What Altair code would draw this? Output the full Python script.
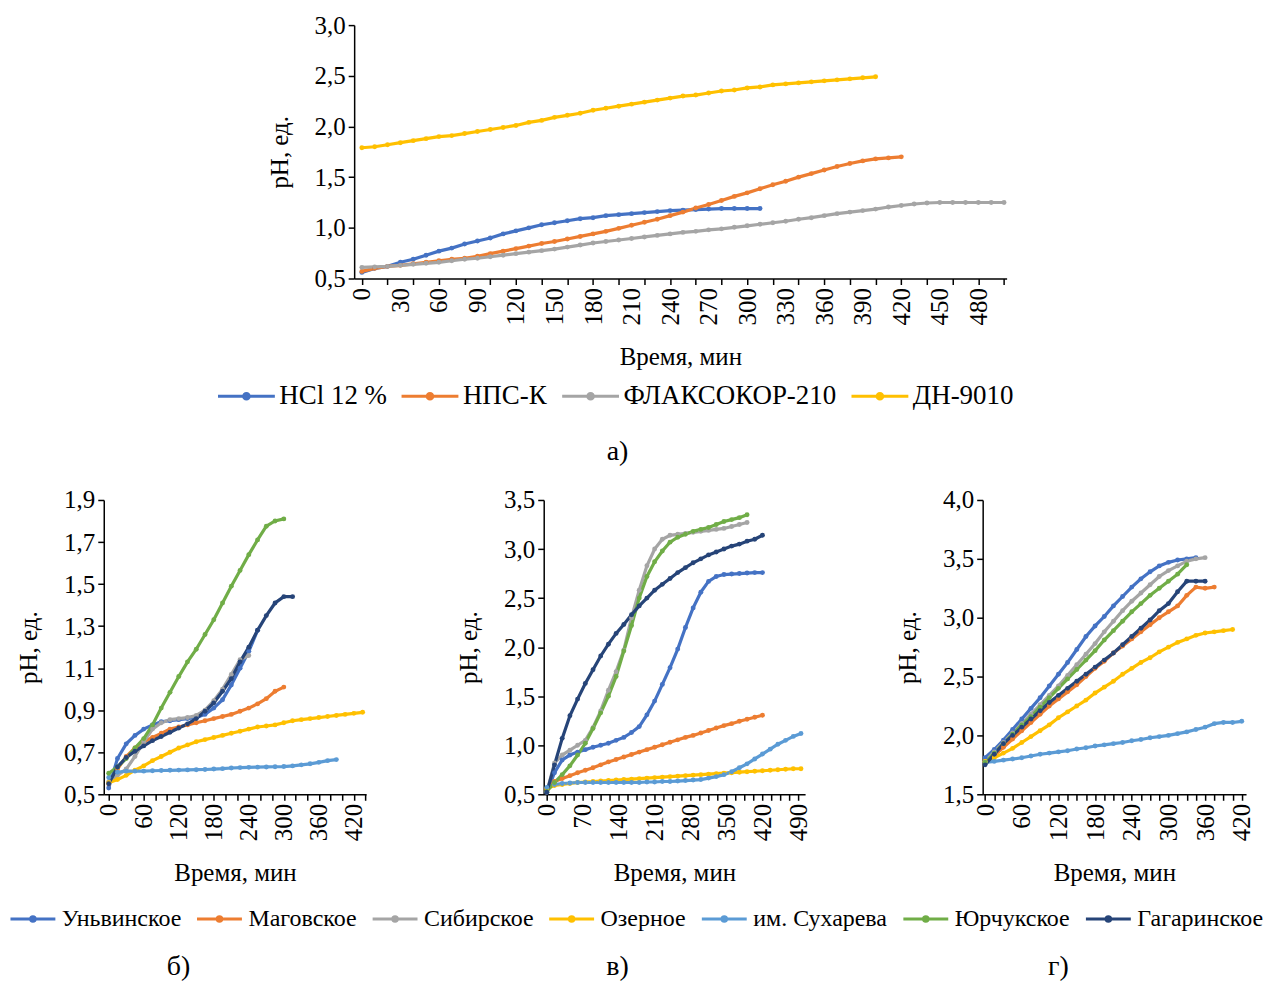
import altair as alt
import pandas as pd

FONT = "Liberation Serif"

# ---------------- panel a) ----------------
a_names = ["HCl 12 %", "НПС-К", "ФЛАКСОКОР-210", "ДН-9010"]
a_colors = ["#4472C4", "#ED7D31", "#A5A5A5", "#FFC000"]
a_step = 10
a_hcl = [0.56, 0.60, 0.62, 0.66, 0.69, 0.73, 0.77, 0.80, 0.84, 0.87, 0.90, 0.94, 0.97, 1.00, 1.03, 1.05,
         1.07, 1.09, 1.10, 1.12, 1.13, 1.14, 1.15, 1.16, 1.17, 1.175, 1.18, 1.185, 1.19, 1.19, 1.19, 1.19]
a_nps = [0.57, 0.60, 0.62, 0.63, 0.645, 0.66, 0.675, 0.69, 0.70, 0.72, 0.745, 0.77, 0.795, 0.82, 0.845,
         0.865, 0.89, 0.915, 0.94, 0.965, 0.995, 1.025, 1.055, 1.085, 1.12, 1.155, 1.195, 1.23, 1.27, 1.31,
         1.345, 1.385, 1.425, 1.46, 1.50, 1.535, 1.57, 1.605, 1.635, 1.66, 1.68, 1.69, 1.70]
a_flax = [0.61, 0.615, 0.62, 0.63, 0.64, 0.65, 0.66, 0.675, 0.69, 0.70, 0.715, 0.73, 0.745, 0.76, 0.775,
          0.79, 0.81, 0.83, 0.85, 0.865, 0.88, 0.895, 0.91, 0.925, 0.94, 0.955, 0.965, 0.98, 0.99, 1.005,
          1.02, 1.035, 1.05, 1.065, 1.085, 1.10, 1.12, 1.14, 1.155, 1.17, 1.185, 1.205, 1.22, 1.235, 1.245,
          1.25, 1.25, 1.25, 1.25, 1.25, 1.25]
a_dn = [1.79, 1.80, 1.82, 1.84, 1.86, 1.88, 1.90, 1.91, 1.93, 1.95, 1.97, 1.99, 2.01, 2.04, 2.06, 2.09,
        2.11, 2.13, 2.16, 2.18, 2.20, 2.22, 2.24, 2.26, 2.28, 2.30, 2.31, 2.33, 2.35, 2.36, 2.38, 2.39,
        2.41, 2.42, 2.43, 2.44, 2.45, 2.46, 2.47, 2.48, 2.49]

# ---------------- fields б), в), г) ----------------
f_names = ["Уньвинское", "Маговское", "Сибирское", "Озерное", "им. Сухарева", "Юрчукское", "Гагаринское"]
f_colors = ["#4472C4", "#ED7D31", "#A5A5A5", "#FFC000", "#5B9BD5", "#70AD47", "#264478"]
f_step = 15

b_un = [0.53, 0.67, 0.74, 0.78, 0.81, 0.83, 0.845, 0.85, 0.855, 0.86, 0.865, 0.88, 0.91, 0.95, 1.02, 1.10,
        1.18, 1.28]
b_mag = [0.55, 0.62, 0.68, 0.72, 0.75, 0.77, 0.79, 0.81, 0.82, 0.83, 0.84, 0.85, 0.86, 0.87, 0.88, 0.895,
         0.91, 0.93, 0.955, 0.99, 1.01]
b_sib = [0.56, 0.59, 0.62, 0.68, 0.75, 0.81, 0.84, 0.855, 0.86, 0.865, 0.875, 0.90, 0.945, 1.00, 1.07,
         1.14, 1.16]
b_oz = [0.555, 0.57, 0.59, 0.615, 0.635, 0.66, 0.68, 0.70, 0.72, 0.735, 0.75, 0.76, 0.77, 0.78, 0.79,
        0.80, 0.81, 0.82, 0.825, 0.83, 0.84, 0.85, 0.855, 0.86, 0.865, 0.87, 0.875, 0.88, 0.885, 0.89]
b_suh = [0.58, 0.605, 0.61, 0.61, 0.61, 0.612, 0.613, 0.614, 0.615, 0.616, 0.617, 0.618, 0.62, 0.622,
         0.625, 0.627, 0.628, 0.629, 0.63, 0.631, 0.632, 0.635, 0.64, 0.645, 0.652, 0.66, 0.665]
b_yur = [0.60, 0.63, 0.67, 0.72, 0.765, 0.83, 0.91, 0.985, 1.06, 1.13, 1.19, 1.26, 1.33, 1.41, 1.49,
         1.565, 1.64, 1.71, 1.775, 1.80, 1.81]
b_gag = [0.55, 0.63, 0.675, 0.705, 0.73, 0.755, 0.775, 0.795, 0.815, 0.835, 0.86, 0.895, 0.935, 0.99,
         1.05, 1.13, 1.20, 1.28, 1.35, 1.41, 1.44, 1.44]

v_un = [0.52, 0.72, 0.85, 0.90, 0.93, 0.955, 0.98, 1.00, 1.02, 1.05, 1.08, 1.13, 1.19, 1.31, 1.45, 1.62,
        1.79, 1.98, 2.20, 2.40, 2.56, 2.67, 2.72, 2.74, 2.745, 2.75, 2.755, 2.76, 2.76]
v_mag = [0.55, 0.63, 0.66, 0.69, 0.72, 0.745, 0.77, 0.80, 0.83, 0.855, 0.88, 0.905, 0.93, 0.955, 0.98,
         1.005, 1.03, 1.055, 1.08, 1.10, 1.125, 1.15, 1.175, 1.20, 1.22, 1.245, 1.265, 1.285, 1.305]
v_sib = [0.52, 0.82, 0.90, 0.95, 1.00, 1.05, 1.18, 1.35, 1.56, 1.75, 1.97, 2.30, 2.58, 2.83, 3.00, 3.10,
         3.14, 3.15, 3.16, 3.17, 3.18, 3.19, 3.20, 3.21, 3.23, 3.25, 3.27]
v_oz = [0.56, 0.59, 0.60, 0.61, 0.62, 0.625, 0.63, 0.635, 0.64, 0.645, 0.65, 0.655, 0.66, 0.665, 0.67,
        0.675, 0.68, 0.685, 0.69, 0.695, 0.70, 0.705, 0.71, 0.715, 0.72, 0.725, 0.73, 0.735, 0.74, 0.745,
        0.75, 0.755, 0.76, 0.76]
v_suh = [0.57, 0.60, 0.61, 0.615, 0.62, 0.62, 0.62, 0.62, 0.62, 0.62, 0.62, 0.62, 0.62, 0.625, 0.625,
         0.63, 0.63, 0.635, 0.64, 0.645, 0.65, 0.665, 0.68, 0.70, 0.73, 0.77, 0.81, 0.86, 0.91, 0.96,
         1.01, 1.05, 1.09, 1.12]
v_yur = [0.53, 0.62, 0.70, 0.79, 0.90, 1.02, 1.17, 1.33, 1.50, 1.70, 1.96, 2.22, 2.50, 2.72, 2.87, 2.98,
         3.07, 3.12, 3.15, 3.18, 3.20, 3.22, 3.25, 3.28, 3.30, 3.32, 3.35]
v_gag = [0.52, 0.80, 1.07, 1.30, 1.47, 1.63, 1.77, 1.91, 2.03, 2.14, 2.23, 2.33, 2.42, 2.50, 2.58, 2.64,
         2.70, 2.76, 2.81, 2.86, 2.90, 2.94, 2.97, 3.00, 3.03, 3.05, 3.08, 3.10, 3.14]

g_un = [1.81, 1.88, 1.96, 2.05, 2.14, 2.23, 2.32, 2.42, 2.52, 2.62, 2.73, 2.84, 2.93, 3.01, 3.10, 3.18,
        3.26, 3.33, 3.39, 3.44, 3.47, 3.49, 3.50, 3.51]
g_mag = [1.77, 1.83, 1.90, 1.97, 2.04, 2.11, 2.18, 2.25, 2.31, 2.37, 2.43, 2.50, 2.57, 2.63, 2.70, 2.76,
         2.82, 2.88, 2.94, 3.00, 3.05, 3.10, 3.19, 3.26, 3.25, 3.26]
g_sib = [1.78, 1.86, 1.94, 2.02, 2.10, 2.18, 2.26, 2.34, 2.42, 2.51, 2.60, 2.69, 2.78, 2.88, 2.97, 3.06,
         3.14, 3.21, 3.28, 3.35, 3.40, 3.44, 3.48, 3.50, 3.51]
g_oz = [1.78, 1.81, 1.85, 1.89, 1.94, 1.99, 2.04, 2.09, 2.15, 2.20, 2.25, 2.30, 2.36, 2.41, 2.46, 2.52,
        2.57, 2.62, 2.66, 2.71, 2.75, 2.79, 2.82, 2.85, 2.87, 2.88, 2.89, 2.90]
g_suh = [1.77, 1.78, 1.79, 1.80, 1.81, 1.825, 1.84, 1.85, 1.86, 1.87, 1.885, 1.895, 1.91, 1.92, 1.93,
         1.94, 1.955, 1.965, 1.98, 1.99, 2.00, 2.015, 2.03, 2.05, 2.07, 2.10, 2.11, 2.11, 2.12]
g_yur = [1.77, 1.85, 1.93, 2.01, 2.09, 2.16, 2.24, 2.32, 2.40, 2.48, 2.56, 2.64, 2.72, 2.81, 2.89, 2.97,
         3.05, 3.12, 3.19, 3.25, 3.31, 3.37, 3.45]
g_gag = [1.75, 1.84, 1.93, 2.00, 2.07, 2.14, 2.21, 2.28, 2.34, 2.40, 2.46, 2.52, 2.58, 2.64, 2.70, 2.77,
         2.84, 2.91, 2.98, 3.06, 3.12, 3.22, 3.31, 3.31, 3.31]

captions = ["а)", "б)", "в)", "г)"]


def make_df(names, arrays, step):
    rows = []
    for name, arr in zip(names, arrays):
        for i, v in enumerate(arr):
            rows.append({"t": i * step, "ph": v, "s": name})
    return pd.DataFrame(rows)


LEG_PATH = "M-1,0L1,0M0,-0.1A0.1,0.1,0,1,1,0,0.1A0.1,0.1,0,1,1,0,-0.1"
YLABEL = "replace(format(datum.value, '.1f'), '.', ',')"


def panel(df, names, colors, xdom, xvals, tick_every, label_every, ydom, yvals, legend):
    x = alt.X("t:Q", scale=alt.Scale(domain=xdom, nice=False, zero=False),
              axis=alt.Axis(values=xvals, labelAngle=-90, labelOverlap=False, labelFlush=False,
                            labelBound=False,
                            labelExpr=f"datum.value % {label_every} == 0 ? datum.label : ''",
                            tickOpacity={"condition": {"test": f"datum.value % {tick_every} == 0",
                                                       "value": 1}, "value": 0},
                            title="Время, мин", titlePadding=20))
    y = alt.Y("ph:Q", scale=alt.Scale(domain=ydom, nice=False, zero=False),
              axis=alt.Axis(values=yvals, labelExpr=YLABEL, title="pH, ед.", titlePadding=22))
    color = alt.Color("s:N", scale=alt.Scale(domain=names, range=colors), legend=legend)
    return alt.Chart(df).mark_line(
        strokeWidth=3.2, point=alt.OverlayMarkDef(filled=True, size=24, opacity=1)
    ).encode(x=x, y=y, color=color)


def caption(txt, x, y):
    return alt.Chart(pd.DataFrame({"c": [txt]})).mark_text(
        font=FONT, fontSize=28, color="black"
    ).encode(text="c:N", x=alt.value(x), y=alt.value(y))


top_legend = alt.Legend(orient="none", legendX=-138, legendY=342, direction="horizontal", title=None,
                        labelFont=FONT, labelFontSize=27, labelColor="black", symbolType=LEG_PATH,
                        symbolSize=3249, symbolStrokeWidth=3, columnPadding=8, labelOffset=3,
                        padding=0, labelLimit=0)
bot_legend = alt.Legend(orient="none", legendX=-95, legendY=396, direction="horizontal", title=None,
                        labelFont=FONT, labelFontSize=24, labelColor="black", symbolType=LEG_PATH,
                        symbolSize=2025, symbolStrokeWidth=3, columnPadding=9, labelOffset=5,
                        padding=0, labelLimit=0)

df_a = make_df(a_names, [a_hcl, a_nps, a_flax, a_dn], a_step)
df_b = make_df(f_names, [b_un, b_mag, b_sib, b_oz, b_suh, b_yur, b_gag], f_step)
df_v = make_df(f_names, [v_un, v_mag, v_sib, v_oz, v_suh, v_yur, v_gag], f_step)
df_g = make_df(f_names, [g_un, g_mag, g_sib, g_oz, g_suh, g_yur, g_gag], f_step)

top = alt.layer(
    panel(df_a, a_names, a_colors, [-6, 502], [i * 10 for i in range(51)], 20, 30,
          [0.5, 3.0], [0.5, 1.0, 1.5, 2.0, 2.5, 3.0], top_legend),
    caption(captions[0], 264, 428),
).properties(width=654, height=254)

pb = alt.layer(
    panel(df_b, f_names, f_colors, [-8.5, 441], [i * 20 for i in range(23)], 20, 60,
          [0.5, 1.9], [0.5, 0.7, 0.9, 1.1, 1.3, 1.5, 1.7, 1.9], bot_legend),
    caption(captions[1], 75, 468),
).properties(width=263, height=295)

pv = alt.layer(
    panel(df_v, f_names, f_colors, [-6, 503], [i * 17.5 for i in range(29)], 17.5, 70,
          [0.5, 3.5], [0.5, 1.0, 1.5, 2.0, 2.5, 3.0, 3.5], bot_legend),
    caption(captions[2], 74, 468),
).properties(width=262, height=295)

pg = alt.layer(
    panel(df_g, f_names, f_colors, [-4, 427], [i * 15 for i in range(29)], 15, 60,
          [1.5, 4.0], [1.5, 2.0, 2.5, 3.0, 3.5, 4.0], bot_legend),
    caption(captions[3], 76, 468),
).properties(width=264, height=295)

spacer = alt.Chart(pd.DataFrame({"a": [0]})).mark_point(opacity=0).encode(
    x=alt.value(0), y=alt.value(0)).properties(width=231, height=254)

top_row = alt.hconcat(spacer, top, spacing=20, bounds="flush").resolve_scale(color="independent")
bottom_row = alt.hconcat(pb, pv, pg, spacing=178, bounds="flush")

chart = alt.vconcat(top_row, bottom_row, spacing=476, bounds="flush").resolve_scale(
    color="independent"
).properties(
    padding={"left": 9, "top": 12, "right": 0, "bottom": 0}, background="white"
).configure_view(stroke=None).configure_axis(
    grid=False, domainColor="black", domainWidth=1.5, tickColor="black", tickWidth=1.5, tickSize=6,
    labelFont=FONT, labelFontSize=25, labelColor="black", labelPadding=3,
    titleFont=FONT, titleFontSize=25, titleFontWeight="normal", titleColor="black"
)

chart.save("out.html", embed_options={"renderer": "svg", "actions": False})
